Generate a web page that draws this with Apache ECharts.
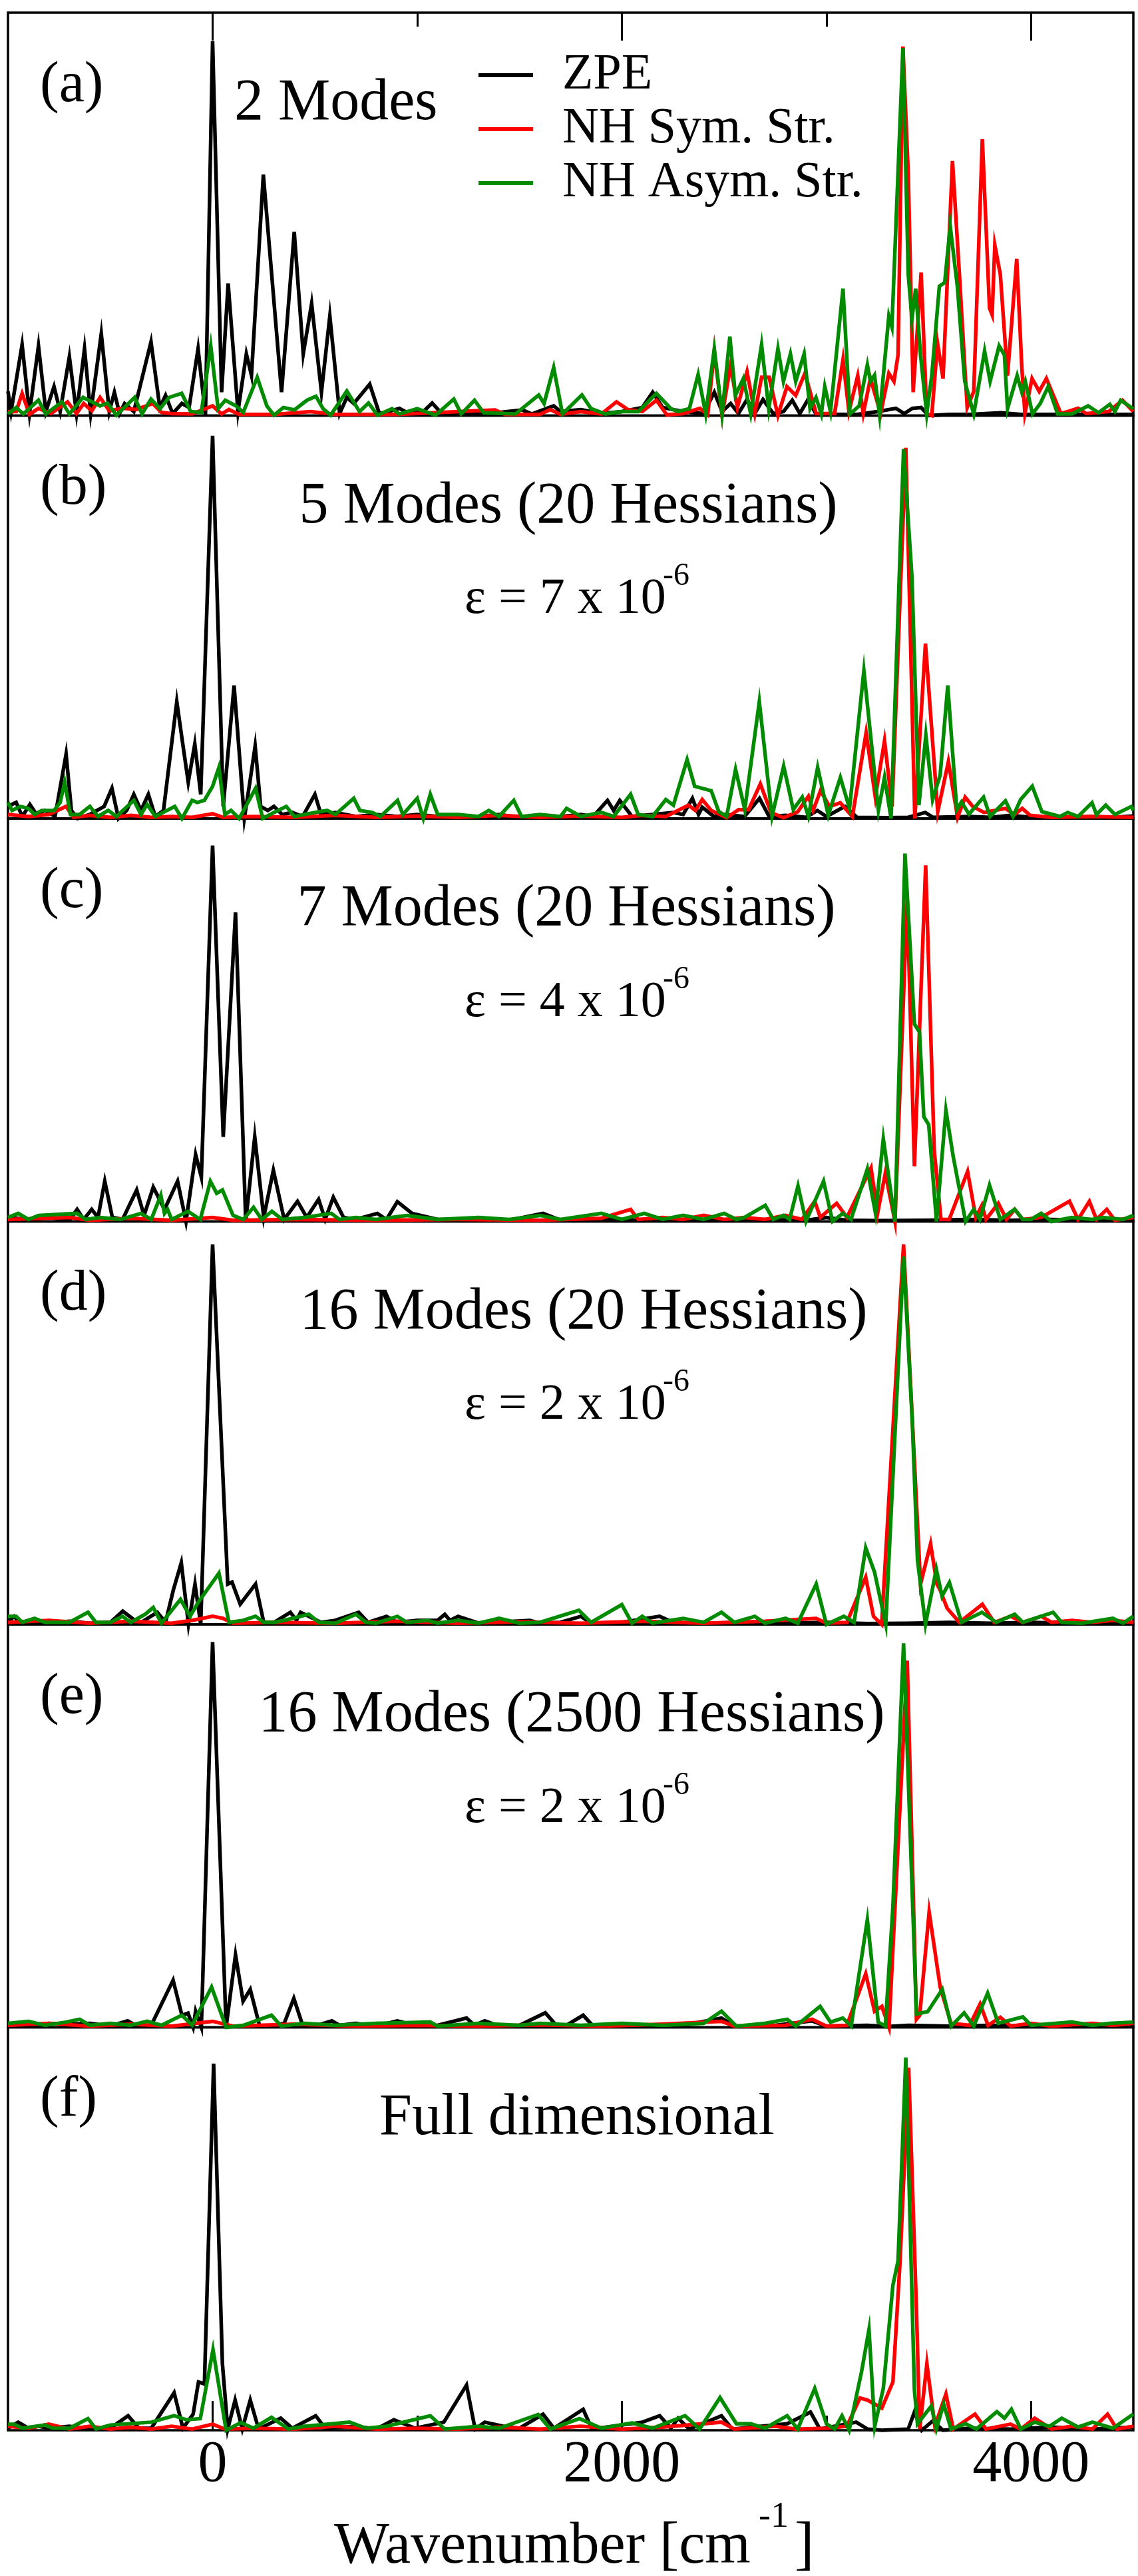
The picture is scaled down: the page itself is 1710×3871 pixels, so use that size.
<!DOCTYPE html>
<html>
<head>
<meta charset="utf-8">
<script src="https://cdn.jsdelivr.net/npm/echarts@6/dist/echarts.min.js"></script>
<style>
  html, body { margin: 0; padding: 0; background: #fff; }
  #chart-container { width: 1710px; height: 3871px; }
</style>
</head>
<body>
<div id="chart-container"></div>
<script>
// series names and x-axis ticks
const seriesNames = ['ZPE', 'NH Sym. Str.', 'NH Asym. Str.'];
const majorTicks = [0, 2000, 4000];
const minorTicks = [1000, 3000];
const panelLabels = ['(a)', '(b)', '(c)', '(d)', '(e)', '(f)'];
const panelTitles = ['2 Modes', '5 Modes (20 Hessians)', '7 Modes (20 Hessians)',
  '16 Modes (20 Hessians)', '16 Modes (2500 Hessians)', 'Full dimensional'];
const epsValues = [null, '7', '4', '2', '2', null];

// (a) 2 modes
const zpeA = [[-1000,0.06],[-985,0.01],[-931,0.176],[-895,0.005],[-851,0.173],[-815,0.01],[-775,0.072],[-745,0.01],[-700,0.146],[-665,0.005],[-626,0.166],[-596,0.005],[-544,0.203],[-505,0.01],[-480,0.058],[-455,0.005],[-430,0.03],[-385,0.01],[-301,0.183],[-258,0.02],[-230,0.05],[-195,0.005],[-150,0.03],[-115,0.02],[-71,0.166],[-35,0],[0,0.929],[44,0.058],[76,0.328],[124,0.01],[165,0.153],[190,0.1],[248,0.598],[337,0.058],[399,0.456],[443,0.153],[484,0.278],[532,0.058],[573,0.247],[621,0.005],[656,0.045],[690,0.03],[768,0.078],[815,0.005],[860,0.01],[913,0.018],[960,0.005],[1030,0.01],[1073,0.031],[1120,0.005],[1230,0.003],[1350,0.005],[1440,0.01],[1514,0.014],[1560,0.004],[1667,0.024],[1700,0.01],[1800,0.015],[1900,0.005],[2000,0.01],[2100,0.02],[2151,0.058],[2200,0.02],[2300,0.01],[2400,0.005],[2452,0.058],[2490,0.01],[2532,0.03],[2570,0.005],[2612,0.04],[2650,0.005],[2690,0.04],[2740,0.005],[2790,0.01],[2833,0.038],[2870,0.005],[2910,0.04],[2950,0.003],[3050,0.003],[3150,0.003],[3250,0.01],[3340,0.018],[3380,0.005],[3420,0.018],[3463,0.02],[3499,0],[3600,0.003],[3700,0.003],[3853,0.007],[3950,0.003],[4100,0.003],[4300,0.003],[4500,0.003]];
const symA = [[-1000,0.01],[-960,0.01],[-931,0.055],[-895,0.003],[-851,0.018],[-790,0.005],[-709,0.034],[-665,0.005],[-630,0.03],[-590,0.012],[-550,0.045],[-505,0.012],[-435,0.018],[-373,0.015],[-293,0.03],[-250,0.008],[-200,0.005],[-100,0.004],[0,0.024],[44,0.004],[80,0.015],[130,0.003],[300,0.003],[480,0.01],[600,0.003],[900,0.003],[1380,0.014],[1430,0.003],[1600,0.003],[1650,0.015],[1700,0.003],[1800,0.01],[1900,0.004],[1974,0.034],[2030,0.015],[2100,0.01],[2169,0.038],[2220,0.002],[2300,0.005],[2382,0.018],[2420,0.002],[2452,0.16],[2490,0],[2532,0.126],[2565,0.02],[2612,0.109],[2650,0.005],[2683,0.095],[2720,0.095],[2763,0],[2807,0.072],[2850,0.05],[2895,0.105],[2950,0.005],[3040,0.005],[3081,0.139],[3110,0.01],[3153,0.099],[3180,0.005],[3215,0.092],[3265,0.005],[3305,0.105],[3330,0.085],[3350,0.15],[3374,0.916],[3400,0.6],[3424,0.058],[3463,0.355],[3490,0.005],[3515,0],[3543,0.18],[3570,0.092],[3616,0.632],[3650,0.35],[3688,0.02],[3720,0.06],[3762,0.686],[3797,0.267],[3810,0.25],[3823,0.423],[3850,0.35],[3885,0.099],[3930,0.389],[3955,0.12],[3970,0.005],[4005,0.092],[4040,0.06],[4075,0.092],[4146,0.005],[4180,0.01],[4230,0.018],[4270,0.005],[4380,0.01],[4447,0.038],[4500,0.01]];
const asymA = [[-1000,0.004],[-960,0.02],[-925,0.004],[-851,0.038],[-815,0.004],[-736,0.034],[-700,0.004],[-633,0.045],[-550,0.024],[-514,0.031],[-470,0.001],[-381,0.045],[-345,0.004],[-301,0.041],[-257,0.017],[-213,0.045],[-151,0.055],[-107,0.01],[-55,0.008],[-9,0.173],[27,0.017],[62,0.038],[115,0.024],[150,0.008],[218,0.095],[265,0.024],[300,0.001],[346,0.02],[400,0.014],[461,0.038],[505,0.048],[540,0.017],[577,0.001],[656,0.061],[718,0.01],[762,0.031],[806,0.001],[877,0.017],[913,0.004],[1000,0.017],[1090,0.001],[1179,0.041],[1215,0.004],[1280,0.038],[1325,0.007],[1480,0.004],[1594,0.051],[1620,0.03],[1667,0.119],[1710,0.004],[1805,0.051],[1850,0.017],[1920,0.004],[2000,0.01],[2080,0.01],[2169,0.055],[2240,0.017],[2275,0.01],[2330,0.017],[2373,0.102],[2410,0.004],[2452,0.166],[2490,0.004],[2528,0.196],[2555,0.05],[2594,0.092],[2630,0.004],[2683,0.176],[2718,0.017],[2763,0.166],[2790,0.085],[2824,0.153],[2850,0.085],[2891,0.153],[2920,0.017],[2949,0.045],[2975,0.004],[2992,0.072],[3020,0.01],[3081,0.315],[3115,0.004],[3160,0.024],[3200,0.126],[3215,0.085],[3235,0.1],[3260,0],[3305,0.247],[3320,0.22],[3374,0.912],[3400,0.35],[3418,0.24],[3436,0.315],[3460,0.15],[3490,0.004],[3515,0.1],[3552,0.321],[3578,0.33],[3605,0.47],[3640,0.32],[3676,0.085],[3720,0.004],[3773,0.16],[3800,0.085],[3844,0.173],[3870,0.15],[3885,0.017],[3932,0.099],[3955,0.058],[3972,0.085],[4007,0.004],[4045,0.03],[4084,0.072],[4130,0.004],[4200,0.004],[4279,0.024],[4330,0.007],[4385,0.028],[4410,0.01],[4438,0.038],[4500,0.017]];

// (b) 5 modes (20 Hessians)
const zpeB = [[-1000,0.03],[-960,0.04],[-930,0.005],[-893,0.035],[-860,0.01],[-820,0.02],[-770,0.005],[-716,0.16],[-690,0.02],[-660,0],[-600,0.01],[-530,0.03],[-492,0.075],[-460,0],[-420,0.02],[-385,0.06],[-350,0.02],[-314,0.06],[-280,0.005],[-240,0.02],[-175,0.29],[-150,0.2],[-119,0.09],[-87,0.185],[-58,0.06],[0,0.95],[52,0.03],[105,0.33],[155,0],[185,0.1],[208,0.18],[235,0.03],[270,0.02],[300,0.03],[340,0.01],[390,0.015],[440,0.005],[500,0.06],[530,0.01],[600,0.015],[700,0.005],[800,0.01],[900,0.005],[1000,0.01],[1100,0.005],[1200,0.003],[1300,0.005],[1400,0.01],[1500,0.003],[1600,0.005],[1700,0.005],[1800,0.01],[1860,0.005],[1930,0.045],[1960,0.02],[1990,0.045],[2050,0.005],[2150,0.01],[2250,0.015],[2300,0.01],[2345,0.05],[2375,0.01],[2393,0.028],[2450,0.005],[2500,0.01],[2600,0.005],[2673,0.05],[2720,0.005],[2800,0.008],[2900,0.003],[2956,0.02],[3000,0.005],[3090,0.03],[3150,0.003],[3300,0.002],[3400,0.003],[3483,0.015],[3520,0.003],[3700,0.005],[3800,0.003],[3900,0.008],[4000,0.003],[4100,0.005],[4200,0.003],[4300,0.005],[4400,0.003],[4500,0.006]];
const symB = [[-1000,0.01],[-900,0.005],[-800,0.01],[-716,0.03],[-680,0.003],[-600,0.008],[-500,0.003],[-400,0.008],[-300,0.003],[-200,0.005],[-100,0.003],[0,0.012],[50,0.003],[200,0.005],[400,0.003],[600,0.008],[800,0.003],[1000,0.006],[1200,0.003],[1400,0.008],[1600,0.003],[1800,0.006],[2000,0.003],[2100,0.008],[2215,0.005],[2326,0.033],[2360,0.02],[2393,0.047],[2437,0.02],[2512,0.002],[2571,0.022],[2620,0.022],[2677,0.086],[2729,0.015],[2790,0.002],[2860,0.017],[2912,0.055],[2935,0.02],[2971,0.069],[3015,0.03],[3068,0.039],[3127,0.005],[3194,0.213],[3239,0.053],[3284,0.193],[3321,0.03],[3388,0.92],[3432,0],[3484,0.434],[3544,0.017],[3596,0.141],[3641,0.003],[3678,0.053],[3715,0.03],[3770,0.015],[3875,0.025],[3920,0.01],[3957,0.025],[3995,0.008],[4100,0.003],[4300,0.005],[4500,0.003]];
const asymB = [[-1000,0.04],[-980,0.02],[-940,0.03],[-900,0.025],[-870,0.01],[-835,0.02],[-775,0.02],[-745,0.04],[-723,0.09],[-695,0.01],[-650,0.01],[-600,0.03],[-560,0.005],[-510,0.02],[-470,0.005],[-385,0.045],[-350,0.01],[-320,0.035],[-280,0.005],[-185,0.03],[-150,0],[-100,0.045],[-75,0.04],[-40,0.045],[0,0.08],[31,0.127],[60,0.01],[90,0.02],[130,0],[210,0.075],[245,0],[300,0.015],[360,0.03],[400,0.005],[500,0.015],[560,0.02],[600,0.01],[690,0.05],[720,0.02],[780,0.015],[820,0.005],[904,0.045],[930,0.01],[1000,0.05],[1030,0],[1064,0.06],[1100,0.01],[1200,0.01],[1300,0.005],[1350,0.02],[1400,0.005],[1472,0.045],[1510,0.005],[1600,0.01],[1700,0.005],[1730,0.025],[1800,0.005],[1900,0.015],[1960,0.005],[2043,0.06],[2080,0.01],[2150,0.005],[2215,0.047],[2252,0.033],[2319,0.146],[2356,0.08],[2393,0.075],[2437,0.069],[2474,0.017],[2512,0.005],[2556,0.122],[2601,0.022],[2672,0.29],[2734,0.005],[2791,0.13],[2838,0.022],[2882,0.053],[2912,0.005],[2957,0.127],[3009,0.008],[3068,0.102],[3113,0.025],[3183,0.367],[3254,0.02],[3284,0.102],[3316,0],[3377,0.917],[3418,0.6],[3452,0.033],[3486,0.207],[3519,0.047],[3556,0.108],[3593,0.33],[3637,0.022],[3660,0.041],[3697,0.011],[3768,0.053],[3800,0.005],[3875,0.044],[3912,0.005],[3949,0.047],[4006,0.08],[4053,0.017],[4142,0.005],[4179,0.015],[4230,0.005],[4298,0.039],[4320,0.01],[4365,0.033],[4410,0.01],[4491,0.03],[4500,0.02]];

// (c) 7 modes (20 Hessians)
const zpeC = [[-1000,0.01],[-900,0.005],[-800,0.01],[-700,0.003],[-662,0.03],[-630,0.005],[-591,0.03],[-560,0.01],[-527,0.1],[-490,0.01],[-440,0.005],[-371,0.078],[-335,0.015],[-290,0.085],[-235,0.03],[-171,0.1],[-130,0],[-83,0.166],[-55,0.11],[0,0.933],[52,0.21],[112,0.767],[162,0],[206,0.21],[250,0.01],[297,0.127],[350,0.005],[415,0.05],[460,0.01],[518,0.055],[550,0.005],[590,0.06],[640,0.01],[700,0.005],[805,0.02],[850,0.005],[903,0.049],[975,0.02],[1100,0.005],[1300,0.005],[1450,0.003],[1615,0.02],[1700,0.003],[1900,0.005],[2100,0.003],[2300,0.005],[2500,0.003],[2700,0.005],[2900,0.003],[3000,0.01],[3100,0.003],[3250,0.002],[3500,0.003],[3700,0.005],[3900,0.003],[4100,0.005],[4300,0.003],[4500,0.005]];
const symC = [[-1000,0.005],[-700,0.01],[-600,0.003],[-400,0.008],[-200,0.003],[0,0.01],[100,0.003],[400,0.005],[800,0.003],[1200,0.005],[1600,0.003],[1900,0.008],[2043,0.03],[2080,0.005],[2200,0.01],[2300,0.005],[2400,0.015],[2500,0.005],[2600,0.01],[2700,0.005],[2800,0.015],[2880,0.005],[2943,0.05],[2970,0.01],[3050,0.045],[3100,0.01],[3218,0.133],[3250,0.02],[3288,0.12],[3335,0],[3395,0.8],[3430,0.137],[3485,0.884],[3527,0.175],[3560,0.005],[3600,0.005],[3690,0.124],[3730,0.01],[3760,0.04],[3780,0.005],[3840,0.045],[3880,0.005],[3920,0.03],[3960,0.005],[4050,0.01],[4188,0.05],[4230,0.005],[4285,0.05],[4320,0.005],[4370,0.03],[4410,0.003],[4500,0.01]];
const asymC = [[-1000,0.01],[-950,0.02],[-900,0.005],[-850,0.015],[-662,0.02],[-620,0.005],[-550,0.01],[-450,0.005],[-350,0.02],[-300,0.005],[-253,0.065],[-235,0.02],[-220,0.03],[-200,0.005],[-120,0.025],[-60,0.005],[-11,0.1],[20,0.07],[48,0.078],[100,0.015],[150,0.005],[200,0.035],[240,0.005],[290,0.025],[340,0.005],[450,0.01],[580,0.02],[620,0.005],[700,0.01],[800,0.005],[950,0.015],[1100,0.005],[1300,0.01],[1450,0.005],[1600,0.015],[1700,0.005],[1900,0.02],[2000,0.005],[2110,0.02],[2200,0.005],[2300,0.015],[2400,0.005],[2500,0.02],[2560,0.005],[2600,0.01],[2701,0.04],[2740,0.005],[2790,0.015],[2820,0.005],[2861,0.088],[2900,0],[2986,0.1],[3030,0],[3080,0.02],[3120,0.005],[3200,0.13],[3240,0.02],[3278,0.205],[3335,0],[3384,0.913],[3430,0.49],[3455,0.47],[3476,0.26],[3500,0.24],[3538,0],[3584,0.276],[3620,0.16],[3680,0],[3720,0.03],[3750,0.005],[3797,0.09],[3850,0.005],[3920,0.03],[3960,0.005],[4000,0.005],[4050,0.02],[4100,0],[4200,0.01],[4300,0.005],[4350,0.01],[4450,0.005],[4500,0.015]];

// (d) 16 modes (20 Hessians)
const zpeD = [[-1000,0.005],[-970,0.02],[-940,0.003],[-900,0.01],[-800,0.003],[-700,0.008],[-600,0.003],[-500,0.005],[-439,0.033],[-380,0.01],[-350,0.005],[-270,0.03],[-230,0.005],[-192,0.085],[-153,0.153],[-118,0],[-86,0.1],[-58,0],[0,0.943],[74,0.1],[95,0.105],[135,0.05],[210,0.1],[250,0.005],[300,0.005],[380,0.03],[410,0.01],[430,0.03],[530,0.005],[600,0.01],[714,0.03],[760,0.005],[850,0.02],[900,0.005],[1000,0.01],[1100,0.01],[1135,0.025],[1160,0.01],[1200,0.02],[1300,0.003],[1550,0.01],[1600,0.003],[1700,0.005],[1800,0.02],[1850,0.003],[2000,0.005],[2185,0.02],[2250,0.005],[2400,0.003],[2600,0.005],[2800,0.003],[3000,0.005],[3200,0.002],[3400,0.003],[3600,0.005],[3800,0.003],[4000,0.005],[4200,0.003],[4500,0.005]];
const symD = [[-1000,0.005],[-800,0.01],[-600,0.003],[-400,0.008],[-200,0.003],[-100,0.01],[0,0.02],[50,0.015],[100,0.003],[300,0.005],[600,0.003],[900,0.008],[1200,0.003],[1500,0.006],[1800,0.003],[2100,0.008],[2400,0.003],[2700,0.008],[2950,0.015],[3000,0.003],[3100,0.005],[3192,0.117],[3230,0.02],[3270,0],[3377,0.943],[3460,0.1],[3509,0.2],[3540,0.1],[3556,0.085],[3590,0.04],[3650,0.005],[3762,0.05],[3820,0.005],[3900,0.02],[3960,0.005],[4050,0.02],[4100,0.005],[4200,0.01],[4300,0.005],[4400,0.01],[4500,0.005]];
const asymD = [[-1000,0.02],[-960,0.02],[-930,0.005],[-870,0.015],[-820,0.005],[-700,0.005],[-609,0.03],[-570,0.005],[-500,0.005],[-440,0.02],[-400,0.005],[-330,0.025],[-290,0.042],[-250,0.003],[-157,0.062],[-110,0.02],[-70,0.055],[31,0.127],[80,0.005],[150,0.01],[210,0.02],[250,0.005],[300,0.005],[350,0.01],[470,0.025],[520,0.005],[600,0.003],[700,0.025],[750,0.005],[800,0.003],[903,0.02],[950,0.005],[1050,0.01],[1100,0.003],[1200,0.01],[1300,0.003],[1400,0.015],[1500,0.003],[1600,0.005],[1790,0.035],[1850,0.005],[2000,0.049],[2050,0.003],[2100,0.02],[2150,0.003],[2300,0.015],[2400,0.005],[2487,0.03],[2550,0.005],[2650,0.02],[2700,0.003],[2800,0.015],[2860,0.003],[2950,0.1],[3000,0],[3085,0.02],[3135,0.005],[3192,0.19],[3235,0.13],[3290,0],[3377,0.913],[3420,0.5],[3445,0.16],[3484,0],[3537,0.137],[3565,0.07],[3601,0.104],[3660,0.005],[3760,0.03],[3830,0.005],[3920,0.025],[3960,0.005],[4108,0.03],[4150,0.005],[4250,0.003],[4400,0.015],[4450,0.003],[4500,0.02]];

// (e) 16 modes (2500 Hessians)
const zpeE = [[-1000,0.01],[-900,0.005],[-800,0.01],[-716,0.007],[-600,0.01],[-500,0.003],[-415,0.016],[-370,0.003],[-300,0.005],[-193,0.117],[-150,0.03],[-120,0.035],[-95,0],[-83,0.04],[-55,0],[0,0.956],[66,0],[112,0.18],[149,0.065],[184,0.094],[230,0.003],[280,0.002],[350,0.01],[397,0.072],[440,0.005],[500,0.003],[583,0.016],[620,0.005],[700,0.01],[800,0.003],[903,0.016],[1000,0.003],[1100,0.005],[1241,0.023],[1280,0.005],[1330,0.016],[1400,0.003],[1500,0.005],[1626,0.036],[1680,0.005],[1730,0.005],[1811,0.03],[1860,0.003],[2000,0.005],[2100,0.003],[2300,0.005],[2487,0.023],[2550,0.003],[2750,0.005],[2930,0.016],[3000,0.003],[3200,0.005],[3300,0.002],[3400,0.005],[3600,0.003],[3800,0.005],[4000,0.003],[4200,0.005],[4500,0.003]];
const symE = [[-1000,0.005],[-800,0.01],[-600,0.003],[-400,0.008],[-200,0.003],[0,0.015],[100,0.003],[400,0.008],[700,0.003],[1000,0.005],[1300,0.003],[1600,0.006],[1900,0.003],[2200,0.008],[2487,0.015],[2550,0.003],[2800,0.005],[2930,0.02],[3000,0.003],[3100,0.005],[3192,0.133],[3235,0.04],[3271,0.052],[3306,0],[3395,0.91],[3440,0.02],[3456,0.03],[3502,0.286],[3556,0.1],[3609,0.01],[3700,0.005],[3751,0.058],[3790,0.005],[3850,0.025],[3900,0.003],[4000,0.01],[4100,0.003],[4300,0.01],[4400,0.005],[4500,0.01]];
const asymE = [[-1000,0.01],[-900,0.015],[-820,0.005],[-716,0.013],[-650,0.02],[-600,0.005],[-500,0.01],[-400,0.005],[-320,0.015],[-250,0.005],[-150,0.03],[-100,0.005],[-5,0.1],[66,0],[150,0.005],[288,0.03],[335,0.003],[450,0.01],[600,0.005],[800,0.01],[1064,0.013],[1100,0.003],[1300,0.01],[1500,0.005],[1600,0.01],[1800,0.005],[2000,0.01],[2200,0.005],[2400,0.01],[2487,0.04],[2560,0.003],[2700,0.01],[2808,0.02],[2850,0.003],[2969,0.052],[3020,0.013],[3080,0.023],[3121,0.003],[3200,0.267],[3253,0.013],[3288,0.003],[3325,0.3],[3377,0.953],[3440,0.033],[3495,0.039],[3566,0.094],[3610,0.003],[3673,0.036],[3720,0.003],[3788,0.085],[3840,0.01],[3960,0.026],[4000,0.005],[4200,0.013],[4300,0.005],[4385,0.01],[4500,0.013]];

// (f) full dimensional
const zpeF = [[-1000,0.005],[-950,0.02],[-900,0.005],[-850,0.01],[-800,0.005],[-700,0.01],[-600,0.003],[-500,0.005],[-413,0.036],[-360,0.005],[-300,0.005],[-188,0.093],[-145,0.005],[-95,0.04],[-69,0.12],[-40,0.115],[5,0.91],[48,0.165],[74,0.003],[110,0.075],[145,0.003],[184,0.075],[225,0.003],[333,0.03],[390,0.005],[504,0.036],[550,0.005],[700,0.01],[800,0.003],[886,0.026],[990,0.005],[1130,0.02],[1241,0.112],[1283,0.003],[1330,0.02],[1420,0.01],[1500,0.005],[1615,0.04],[1668,0.005],[1811,0.052],[1854,0.003],[2100,0.02],[2185,0.036],[2240,0.005],[2275,0.03],[2330,0.003],[2487,0.036],[2540,0.003],[2808,0.016],[2922,0.045],[2968,0.003],[3146,0.02],[3200,0.003],[3271,0],[3400,0.003],[3430,0.045],[3466,0],[3519,0.023],[3570,0],[3700,0.005],[3900,0.003],[4100,0.008],[4300,0.003],[4500,0.008]];
const symF = [[-1000,0.01],[-900,0.005],[-800,0.015],[-700,0.003],[-600,0.01],[-500,0.003],[-400,0.008],[-300,0.003],[-200,0.01],[-100,0.003],[0,0.015],[60,0.003],[200,0.005],[400,0.003],[600,0.01],[800,0.003],[1000,0.005],[1200,0.003],[1400,0.008],[1600,0.003],[1800,0.01],[2000,0.003],[2200,0.008],[2487,0.02],[2550,0.003],[2750,0.01],[2850,0.003],[3000,0.005],[3100,0.01],[3164,0.08],[3200,0.075],[3271,0.055],[3325,0.12],[3360,0.42],[3402,0.9],[3440,0.3],[3456,0.003],[3491,0.165],[3530,0.01],[3584,0.09],[3620,0.003],[3726,0.04],[3780,0.003],[3900,0.015],[3950,0.003],[4018,0.03],[4100,0.003],[4200,0.01],[4300,0.003],[4374,0.04],[4420,0.003],[4500,0.01]];
const asymF = [[-1000,0.015],[-970,0.015],[-930,0.005],[-820,0.013],[-780,0.005],[-700,0.005],[-609,0.029],[-570,0.003],[-500,0.013],[-300,0.02],[-188,0.036],[-127,0.026],[-60,0.029],[2,0.2],[66,0],[138,0.019],[200,0.005],[288,0.032],[370,0.003],[450,0.01],[670,0.02],[750,0.005],[850,0.01],[1064,0.036],[1135,0.003],[1300,0.01],[1400,0.005],[1591,0.039],[1651,0.003],[1793,0.029],[1900,0.005],[2050,0.018],[2150,0.005],[2309,0.036],[2380,0.003],[2480,0.081],[2560,0.016],[2630,0.016],[2700,0.005],[2808,0.036],[2860,0.003],[2943,0.104],[3000,0.016],[3040,0.003],[3076,0.036],[3111,0],[3172,0.146],[3208,0.25],[3236,0.01],[3278,0.104],[3325,0.36],[3350,0.42],[3388,0.925],[3430,0.1],[3445,0.016],[3513,0.06],[3537,0.003],[3573,0.065],[3609,0.003],[3680,0.016],[3733,0.003],[3833,0.046],[3870,0.03],[3904,0.052],[3950,0.003],[4018,0.02],[4090,0.01],[4150,0.03],[4230,0.008],[4300,0.02],[4400,0.005],[4500,0.04]];

const panelData = [
  [zpeA, symA, asymA],
  [zpeB, symB, asymB],
  [zpeC, symC, asymC],
  [zpeD, symD, asymD],
  [zpeE, symE, asymE],
  [zpeF, symF, asymF]
];

const colors = ['#000000', '#ff0000', '#008b00'];
const serif = "'Liberation Serif', 'DejaVu Serif', serif";
const top0 = 19;
const panelH = 605.5;
const titleCenters = [null, 854, 851, 877, 859, 867];

const dom = document.getElementById('chart-container');
const myChart = echarts.init(dom, null, { renderer: 'canvas' });

const grids = [];
const xAxes = [];
const yAxes = [];
const series = [];
const graphics = [];

panelData.forEach((curves, i) => {
  const t = top0 + i * panelH;
  grids.push({
    left: 12, right: 7, top: t, height: panelH,
    show: true, borderColor: '#000', borderWidth: 3.5, backgroundColor: 'transparent'
  });
  xAxes.push({
    gridIndex: i, type: 'value', min: -1000, max: 4500,
    axisLine: { show: false }, axisTick: { show: false },
    axisLabel: { show: false }, splitLine: { show: false }
  });
  yAxes.push({
    gridIndex: i, type: 'value', min: 0, max: 1, show: false,
    splitLine: { show: false }
  });
  curves.forEach((data, j) => {
    series.push({
      type: 'line', name: seriesNames[j], xAxisIndex: i, yAxisIndex: i,
      data, symbol: 'none', showSymbol: false, clip: false, silent: true,
      z: 2 + j,
      lineStyle: { color: colors[j], width: 5.5, join: 'miter' },
      itemStyle: { color: colors[j] }
    });
  });

  // panel letter
  graphics.push({
    type: 'text', x: 60, y: t + 110, silent: true,
    style: { text: panelLabels[i], font: `86px ${serif}`, fill: '#000', align: 'left', verticalAlign: 'middle' }
  });
  // panel title
  graphics.push({
    type: 'text', x: i === 0 ? 352 : titleCenters[i], y: t + 137, silent: true,
    style: {
      text: panelTitles[i], font: `88px ${serif}`, fill: '#000',
      align: i === 0 ? 'left' : 'center', verticalAlign: 'middle'
    }
  });
  if (epsValues[i]) {
    graphics.push({
      type: 'text', x: 698, y: t + 277, silent: true,
      style: { text: `ε = ${epsValues[i]} x 10`, font: `76px ${serif}`, fill: '#000', align: 'left', verticalAlign: 'middle' }
    });
    graphics.push({
      type: 'text', x: 996, y: t + 242, silent: true,
      style: { text: '-6', font: `48px ${serif}`, fill: '#000', align: 'left', verticalAlign: 'middle' }
    });
  }
});

// tick axes: top of (a), bottom of (f)
const tickAxis = (gridIndex, position, values, len, labels) => ({
  gridIndex, type: 'value', min: -1000, max: 4500, position,
  axisLine: { show: false }, splitLine: { show: false },
  axisTick: { show: true, inside: true, length: len, customValues: values, lineStyle: { color: '#000', width: 3 } },
  axisLabel: labels
    ? {
      show: true, customValues: values, margin: 9, fontSize: 88, fontFamily: serif, color: '#000',
      formatter: (v) => String(v)
    }
    : { show: false }
});
xAxes.push(tickAxis(0, 'top', majorTicks, 42, false));
xAxes.push(tickAxis(0, 'top', minorTicks, 21, false));
xAxes.push(tickAxis(5, 'bottom', majorTicks, 44, true));
xAxes.push(tickAxis(5, 'bottom', minorTicks, 22, false));

// x-axis title
graphics.push({
  type: 'text', x: 502, y: 3828, silent: true,
  style: { text: 'Wavenumber [cm', font: `88px ${serif}`, fill: '#000', align: 'left', verticalAlign: 'middle' }
});
graphics.push({
  type: 'text', x: 1140, y: 3783, silent: true,
  style: { text: '-1', font: `54px ${serif}`, fill: '#000', align: 'left', verticalAlign: 'middle' }
});
graphics.push({
  type: 'text', x: 1194, y: 3828, silent: true,
  style: { text: ']', font: `88px ${serif}`, fill: '#000', align: 'left', verticalAlign: 'middle' }
});

const option = {
  animation: false,
  backgroundColor: '#fff',
  grid: grids,
  xAxis: xAxes,
  yAxis: yAxes,
  legend: {
    data: seriesNames,
    orient: 'vertical',
    left: 714,
    top: 70,
    icon: 'rect',
    itemWidth: 82,
    itemHeight: 6,
    itemGap: 5,
    selectedMode: false,
    textStyle: { fontSize: 76, fontFamily: serif, color: '#000', lineHeight: 76, padding: [0, 0, 0, 39] }
  },
  series,
  graphic: graphics
};
myChart.setOption(option);
window.addEventListener('resize', myChart.resize);
</script>
</body>
</html>
